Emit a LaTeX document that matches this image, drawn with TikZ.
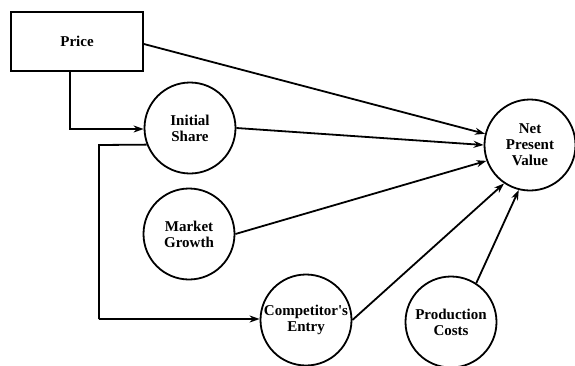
\documentclass[tikz,border=0pt]{standalone}
\usepackage{fontspec}
\setmainfont{Liberation Serif}
\usetikzlibrary{arrows.meta}
\begin{document}
\begin{tikzpicture}[x=1pt,y=-1pt,
  every node/.style={font=\bfseries\fontsize{15}{16}\selectfont, align=center, inner sep=0pt},
  circ/.style={draw, circle, line width=1.8pt, minimum size=91pt},
  boxn/.style={draw, rectangle, line width=1.8pt, minimum width=132pt, minimum height=59pt},
  conn/.style={line width=1.8pt, -{Stealth[length=10pt,width=7pt]}}]
\useasboundingbox (0,0) rectangle (575,365);
\node[boxn] (price) at (77,41.5) {Price};
\node[circ] (share) at (190,128) {Initial\\Share};
\node[circ] (growth) at (189,234) {Market\\Growth};
\node[circ] (comp) at (306,320) {Competitor\textquotesingle s\\Entry};
\node[circ] (prod) at (451,322) {Production\\Costs};
\node[circ] (npv) at (530,145) {Net\\Present\\Value};
\coordinate (pd) at (70,129);
\coordinate (sl) at (99,145);
\coordinate (cl) at (99,319);
\draw[conn] (price.south -| pd) -- (pd) -- (share.west |- pd);
\draw[conn] (price.east |- 0,44) -- (npv.166);
\draw[conn] (share.east) -- (npv.180);
\draw[conn] (growth.east) -- (npv.200);
\draw[conn] (comp.east) -- (npv.236);
\draw[conn] (prod.57) -- (npv.256);
\draw[line width=1.8pt] (share.201) -- (sl) -- (cl);
\draw[conn] (cl) -- (comp.west |- cl);
\end{tikzpicture}
\end{document}
